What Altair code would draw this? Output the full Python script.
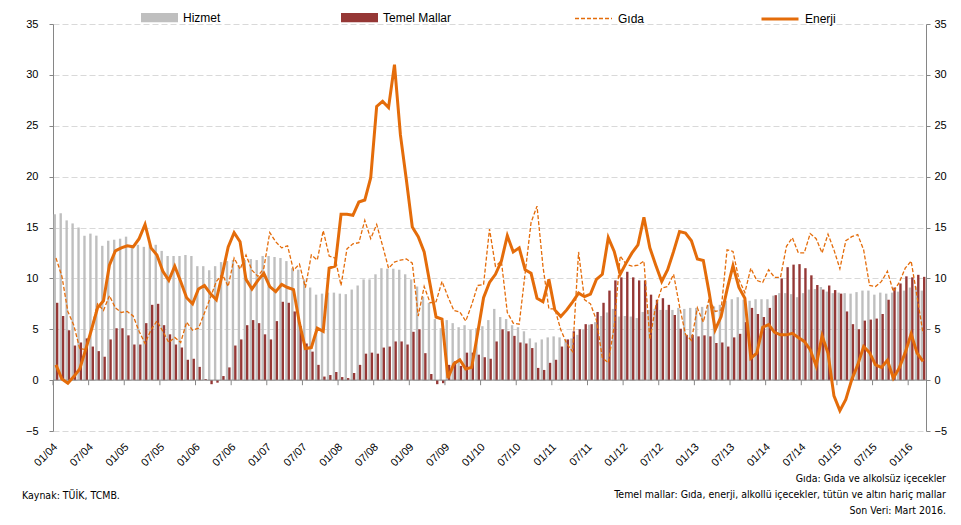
import altair as alt
import pandas as pd

# ---------------- data ----------------
months = [f"{m:02d}/{y:02d}" for y in range(4, 17) for m in range(1, 13)][:147]
tick_labels = months[::6]

hizmet = [16.3, 16.4, 15.7, 15.4, 15.0, 14.2, 14.4, 14.2, 13.2, 13.7, 13.8, 13.9, 14.1, 13.2, 13.3, 13.1, 13.4, 13.3, 12.7, 12.2,
          12.2, 12.2, 12.3, 12.2, 11.2, 11.2, 10.8, 11.2, 11.6, 11.7, 11.8, 11.3, 11.8, 11.9, 11.8, 12.2, 12.2, 12.1, 12.0, 11.7,
          11.0, 10.85, 9.9, 9.1, 8.4, 8.5, 8.6, 8.6, 8.5, 8.45, 8.9, 9.3, 9.9, 9.9, 10.4, 11.0, 10.95, 10.95, 10.85, 10.4,
          9.9, 9.2, 8.2, 7.6, 6.0, 5.1, 5.9, 5.6, 5.2, 5.4, 4.95, 5.1, 5.3, 5.9, 7.0, 6.2, 6.0, 5.4, 5.2, 4.8,
          4.1, 3.7, 4.0, 4.2, 4.3, 4.2, 4.0, 4.1, 4.45, 5.0, 5.45, 5.7, 6.3, 6.65, 7.0, 6.25, 6.3, 6.25, 6.1, 6.7,
          6.9, 7.0, 6.9, 6.9, 6.9, 7.1, 7.0, 7.1, 7.1, 7.2, 7.4, 7.25, 7.4, 7.8, 7.95, 8.15, 7.9, 7.8, 7.95, 7.95,
          7.95, 8.3, 8.55, 8.55, 8.45, 8.15, 8.55, 8.9, 8.95, 9.15, 8.7, 8.55, 8.6, 8.55, 8.5, 8.65, 8.8, 8.8, 8.4, 8.6,
          8.5, 8.6, 8.7, 8.8, 9.1, 9.2, 8.8]

temel = [7.6, 6.3, 4.9, 3.4, 3.7, 4.1, 3.3, 2.85, 2.3, 4.0, 5.1, 5.1, 4.4, 3.5, 3.5, 5.6, 7.4, 7.5, 5.4, 4.5,
         3.5, 3.2, 2.0, 2.1, 1.3, 0.1, -0.4, -0.25, 0.4, 1.25, 3.4, 4.0, 5.4, 5.9, 5.6, 4.5, 4.0, 5.8, 7.7, 7.6,
         6.75, 5.3, 3.6, 2.8, 1.5, 0.35, 0.5, 0.8, 0.3, 0.2, 0.7, 1.5, 2.6, 2.7, 2.6, 3.2, 3.3, 3.8, 3.8, 3.5,
         4.75, 5.0, 2.65, 0.6, -0.4, -0.3, 1.5, 1.85, 1.4, 2.7, 2.7, 2.5, 2.25, 2.1, 3.8, 5.0, 4.8, 4.35, 3.7, 3.6,
         3.15, 1.2, 1.0, 1.7, 2.0, 3.3, 4.0, 4.8, 5.0, 5.5, 5.5, 6.7, 7.6, 8.8, 9.8, 10.1, 10.65, 10.1, 9.8, 9.8,
         8.4, 7.9, 8.05, 7.4, 6.4, 5.05, 4.45, 4.45, 4.3, 4.4, 4.3, 3.65, 3.7, 3.3, 4.2, 4.55, 5.7, 7.1, 6.5, 6.2,
         7.1, 8.35, 10.0, 11.1, 11.35, 11.4, 11.0, 10.3, 9.35, 8.9, 9.3, 8.85, 8.5, 6.75, 5.5, 5.0, 5.85, 5.95, 6.05, 6.5,
         7.9, 9.1, 9.5, 10.2, 10.1, 10.35, 10.15]

gida = [12.0, 10.2, 6.75, 5.4, 3.1, 3.0, 5.1, 7.5, 6.85, 8.3, 7.1, 6.65, 6.75, 6.3, 4.8, 3.6, 4.95, 5.8, 4.8, 3.7,
        4.2, 3.7, 5.7, 4.9, 5.1, 6.6, 8.1, 9.7, 10.4, 9.2, 12.0, 10.9, 12.3, 10.8, 10.2, 11.0, 14.5, 13.6, 13.0, 13.2,
        10.8, 11.4, 9.1, 12.3, 11.8, 14.7, 12.2, 12.0, 9.3, 12.9, 13.4, 13.5, 15.7, 13.9, 15.3, 13.2, 11.0, 11.6, 11.8, 11.9,
        11.5, 6.3, 9.2, 7.6, 7.7, 9.7, 8.2, 6.85, 6.7, 5.8, 7.4, 9.3, 9.4, 14.85, 11.2, 11.7, 6.65, 5.6, 5.5, 10.5,
        15.5, 17.1, 11.2, 7.0, 7.0, 4.95, 3.6, 2.8, 12.6, 7.9, 7.5, 5.9, 2.2, 1.7, 5.3, 12.2, 11.4, 11.2, 11.3, 11.7,
        4.0, 7.3, 9.05, 9.2, 10.4, 7.25, 4.5, 3.9, 7.1, 5.7, 8.05, 6.75, 6.9, 12.8, 12.65, 9.9, 8.6, 11.0, 9.8, 9.6,
        10.85, 10.1, 10.1, 13.15, 14.0, 12.5, 12.5, 14.4, 13.9, 12.5, 14.35, 12.8, 10.95, 13.7, 14.1, 14.3, 12.8, 9.3, 9.2, 9.7,
        10.7, 8.7, 9.6, 11.0, 11.7, 8.2, 4.6]

enerji = [1.5, 0.1, -0.3, 0.35, 1.1, 3.0, 5.0, 7.1, 7.8, 11.3, 12.7, 13.0, 13.2, 13.1, 13.9, 15.3, 13.0, 12.3, 10.7, 9.8,
          11.2, 9.7, 8.1, 7.5, 8.95, 9.3, 8.5, 7.9, 10.4, 13.1, 14.5, 13.6, 9.9, 8.95, 9.8, 10.5, 9.2, 8.7, 9.4, 9.1,
          8.9, 5.6, 3.1, 3.2, 5.1, 4.8, 11.0, 11.2, 16.3, 16.3, 16.2, 17.5, 17.7, 19.9, 26.9, 27.4, 26.8, 31.0, 24.1, 19.7,
          15.05, 14.1, 12.6, 9.4, 6.2, 6.0, 0.2, 1.6, 2.0, 1.1, 1.25, 4.6, 8.1, 9.6, 10.4, 11.7, 14.2, 12.6, 13.0, 10.85,
          10.5, 8.05, 7.7, 9.9, 6.9, 6.25, 6.9, 7.7, 8.55, 8.2, 8.45, 9.9, 10.4, 14.0, 12.65, 10.4, 11.5, 12.5, 13.3, 16.0,
          13.0, 11.3, 9.7, 10.85, 12.65, 14.6, 14.45, 13.7, 11.9, 11.75, 8.55, 4.95, 6.25, 8.9, 11.25, 9.1, 8.05, 2.15, 2.65, 5.2,
          5.45, 4.7, 4.45, 4.45, 4.6, 4.2, 3.8, 3.0, 1.4, 4.35, 2.65, -1.55, -3.0, -1.9, 0.05, 1.5, 3.3, 2.7, 1.5, 1.25,
          1.95, 0.2, 1.2, 2.7, 4.55, 2.65, 1.85]

y_ticks = [-5, 0, 5, 10, 15, 20, 25, 30, 35]
series_names = ["Hizmet", "Temel Mallar", "Gıda", "Enerji"]
note_left = "Kaynak: TÜİK, TCMB."
notes_right = ["Gıda: Gıda ve alkolsüz içecekler",
               "Temel mallar: Gıda, enerji, alkollü içecekler, tütün ve altın hariç mallar",
               "Son Veri: Mart 2016."]

# ---------------- style ----------------
FONT = "Liberation Sans"
NOTE_FONT = "Liberation Sans Narrow, DejaVu Sans Condensed, Liberation Sans"
GREY = "#BFBFBF"
RED = "#953735"
ORANGE = "#E46C0A"
AXIS_GREY = "#868686"
BAR_SYMBOL = "M-1,-0.25H1V0.25H-1Z"

df_h = pd.DataFrame({"ay": months, "seri": series_names[0], "deger": hizmet})
df_t = pd.DataFrame({"ay": months, "seri": series_names[1], "deger": temel})
df_g = pd.DataFrame({"ay": months, "seri": series_names[2], "deger": gida})
df_e = pd.DataFrame({"ay": months, "seri": series_names[3], "deger": enerji})
df_ticks = pd.DataFrame({"ay": tick_labels})

x_scale = alt.Scale(domain=months, paddingInner=0, paddingOuter=0)
x_axis = alt.Axis(values=tick_labels, bandPosition=0, labelAngle=-45, labelAlign="right",
                  labelBaseline="middle", labelPadding=14, ticks=False, domain=False, grid=False,
                  title=None, labelFont=FONT, labelFontSize=11, labelColor="#000000")


def xenc(**kw):
    return alt.X("ay:O", scale=x_scale, axis=x_axis, **kw)


y_scale = alt.Scale(domain=[-5, 35], nice=False, zero=False)
left_axis = alt.Axis(values=y_ticks, orient="left", grid=True, gridDash=[6, 3], gridColor="#D9D9D9",
                     domainColor=AXIS_GREY, tickColor=AXIS_GREY, tickSize=4, labelPadding=11,
                     labelFont=FONT, labelFontSize=11, labelColor="#000000", title=None)
right_axis = alt.Axis(values=y_ticks, orient="right", grid=False,
                      domainColor=AXIS_GREY, tickColor=AXIS_GREY, tickSize=4, labelPadding=4,
                      labelFont=FONT, labelFontSize=11, labelColor="#000000", title=None)

xoff = alt.XOffset("seri:N", scale=alt.Scale(domain=series_names[:2], paddingInner=0, paddingOuter=0.25))


def legend(x, **kw):
    return alt.Legend(orient="none", legendX=x, legendY=-25, title=None, padding=0,
                      labelFont=FONT, labelFontSize=12, labelColor="#000000", labelOffset=5,
                      symbolSize=1369, **kw)


bars_h = alt.Chart(df_h).mark_bar().encode(
    x=xenc(), xOffset=xoff,
    y=alt.Y("deger:Q", scale=y_scale, axis=left_axis),
    color=alt.Color("seri:N", scale=alt.Scale(domain=[series_names[0]], range=[GREY]),
                    legend=legend(88, symbolType=BAR_SYMBOL, symbolStrokeWidth=0, symbolOpacity=1)),
)
bars_t = alt.Chart(df_t).mark_bar().encode(
    x=xenc(), xOffset=xoff,
    y=alt.Y("deger:Q", scale=y_scale, axis=None),
    color=alt.Color("seri:N", scale=alt.Scale(domain=[series_names[1]], range=[RED]),
                    legend=legend(288, symbolType=BAR_SYMBOL, symbolStrokeWidth=0, symbolOpacity=1)),
)
zero_line = alt.Chart(pd.DataFrame({"v": [0]})).mark_rule(color=AXIS_GREY, strokeWidth=1).encode(
    y=alt.Y("v:Q", scale=y_scale, axis=None)
)
zero_ticks = alt.Chart(df_ticks).mark_rule(color=AXIS_GREY, strokeWidth=1).encode(
    x=xenc(bandPosition=0),
    y=alt.YDatum(0, scale=y_scale, axis=None),
    y2=alt.Y2Datum(-0.5),
)
line_g = alt.Chart(df_g).mark_line(strokeDash=[4, 2], strokeWidth=1.3).encode(
    x=xenc(),
    y=alt.Y("deger:Q", scale=y_scale, axis=None),
    color=alt.Color("seri:N", scale=alt.Scale(domain=[series_names[2]], range=[ORANGE]),
                    legend=legend(521, symbolType="stroke", symbolDash=[4, 2], symbolStrokeWidth=1.3)),
)
line_e = alt.Chart(df_e).mark_line(strokeWidth=3).encode(
    x=xenc(),
    y=alt.Y("deger:Q", scale=y_scale, axis=right_axis),
    color=alt.Color("seri:N", scale=alt.Scale(domain=[series_names[3]], range=[ORANGE]),
                    legend=legend(707, symbolType="stroke", symbolStrokeWidth=3)),
)

note_l = alt.Chart(pd.DataFrame({"t": [note_left]})).mark_text(
    align="left", baseline="middle", font=NOTE_FONT, fontSize=10.5, color="#000000"
).encode(text="t:N", x=alt.value(-31), y=alt.value(472))

note_r = [
    alt.Chart(pd.DataFrame({"t": [txt]})).mark_text(
        align="right", baseline="middle", font=NOTE_FONT, fontSize=10.5, color="#000000"
    ).encode(text="t:N", x=alt.value(893), y=alt.value(yy))
    for txt, yy in zip(notes_right, [455, 471, 487])
]

chart = alt.layer(bars_h, bars_t, zero_line, zero_ticks, line_g, line_e, note_l, *note_r).resolve_scale(
    y="independent", color="independent"
).properties(
    width=873, height=407,
    padding={"left": 45, "top": 16, "right": 27, "bottom": 86},
    autosize=alt.AutoSizeParams(type="none"),
).configure_view(stroke=None)

chart.save("out.html", embed_options={"renderer": "svg", "actions": False})
